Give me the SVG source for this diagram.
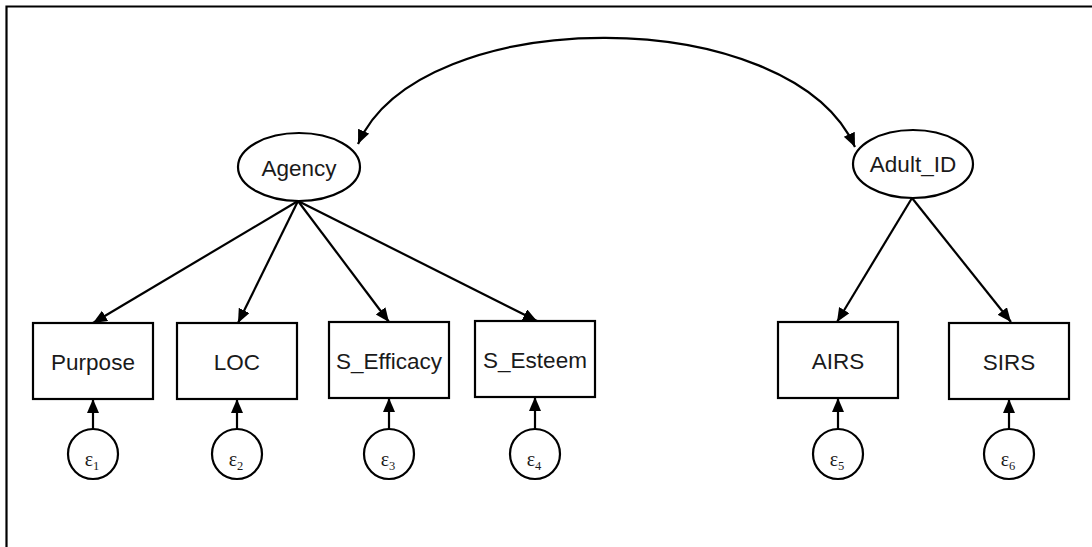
<svg xmlns="http://www.w3.org/2000/svg" width="1092" height="547" viewBox="0 0 1092 547">
<style>
.frame{fill:none;stroke:#000;stroke-width:2.2}
.node{fill:#fff;stroke:#000;stroke-width:2.2}
.lbl{font-family:"Liberation Sans",Arial,sans-serif;font-size:22.5px;fill:#1a1a1a;text-anchor:middle}
.eps{font-family:"Liberation Serif","DejaVu Serif",serif;font-size:20px;fill:#1a1a1a;text-anchor:middle}
.sub{font-size:12.5px}
.edge{fill:none;stroke:#000;stroke-width:2.2;marker-end:url(#ah)}
.cov{fill:none;stroke:#000;stroke-width:2.2;marker-start:url(#ah);marker-end:url(#ah)}
</style>
<defs>
<marker id="ah" markerUnits="userSpaceOnUse" markerWidth="16" markerHeight="14" refX="14" refY="6" orient="auto-start-reverse">
<path d="M0,0 L14,6 L0,12 z" fill="#000"/>
</marker>
</defs>
<rect width="1092" height="547" fill="#fff"/>
<path class="frame" d="M6.5,547 V6.5 H1092"/>
<g id="connectors">
<path class="cov" d="M358,144 C420,2 790,2 855,147"/>
<line class="edge" x1="298" y1="201" x2="93" y2="323"/>
<line class="edge" x1="298" y1="201" x2="238" y2="323"/>
<line class="edge" x1="298" y1="201" x2="389" y2="322"/>
<line class="edge" x1="298" y1="201" x2="537" y2="321"/>
<line class="edge" x1="912" y1="198" x2="837" y2="322"/>
<line class="edge" x1="912" y1="198" x2="1011" y2="322"/>
<line class="edge" x1="93" y1="429" x2="93" y2="399"/>
<line class="edge" x1="237" y1="429" x2="237" y2="399"/>
<line class="edge" x1="389" y1="429" x2="389" y2="398"/>
<line class="edge" x1="535" y1="429" x2="535" y2="397"/>
<line class="edge" x1="838" y1="429" x2="838" y2="398"/>
<line class="edge" x1="1009" y1="429" x2="1009" y2="399"/>
</g>
<g id="Agency"><ellipse class="node" cx="299" cy="167" rx="61" ry="34"/><text class="lbl" x="299" y="176">Agency</text></g>
<g id="Adult_ID"><ellipse class="node" cx="913" cy="164" rx="60" ry="34"/><text class="lbl" x="913" y="172">Adult_ID</text></g>
<g id="Purpose"><rect class="node" x="33" y="323" width="120" height="76"/><text class="lbl" x="93" y="370">Purpose</text></g>
<g id="LOC"><rect class="node" x="177" y="323" width="120" height="76"/><text class="lbl" x="237" y="370">LOC</text></g>
<g id="S_Efficacy"><rect class="node" x="329" y="322" width="120" height="76"/><text class="lbl" x="389" y="369">S_Efficacy</text></g>
<g id="S_Esteem"><rect class="node" x="475" y="321" width="120" height="76"/><text class="lbl" x="535" y="368">S_Esteem</text></g>
<g id="AIRS"><rect class="node" x="778" y="322" width="120" height="76"/><text class="lbl" x="838" y="369">AIRS</text></g>
<g id="SIRS"><rect class="node" x="949" y="323" width="120" height="76"/><text class="lbl" x="1009" y="370">SIRS</text></g>
<g id="e1"><circle class="node" cx="93" cy="454" r="25"/><text class="eps" x="92" y="466">ε<tspan class="sub" dy="4">1</tspan></text></g>
<g id="e2"><circle class="node" cx="237" cy="454" r="25"/><text class="eps" x="236" y="466">ε<tspan class="sub" dy="4">2</tspan></text></g>
<g id="e3"><circle class="node" cx="389" cy="454" r="25"/><text class="eps" x="388" y="466">ε<tspan class="sub" dy="4">3</tspan></text></g>
<g id="e4"><circle class="node" cx="535" cy="454" r="25"/><text class="eps" x="534" y="466">ε<tspan class="sub" dy="4">4</tspan></text></g>
<g id="e5"><circle class="node" cx="838" cy="454" r="25"/><text class="eps" x="837" y="466">ε<tspan class="sub" dy="4">5</tspan></text></g>
<g id="e6"><circle class="node" cx="1009" cy="454" r="25"/><text class="eps" x="1008" y="466">ε<tspan class="sub" dy="4">6</tspan></text></g>
</svg>
